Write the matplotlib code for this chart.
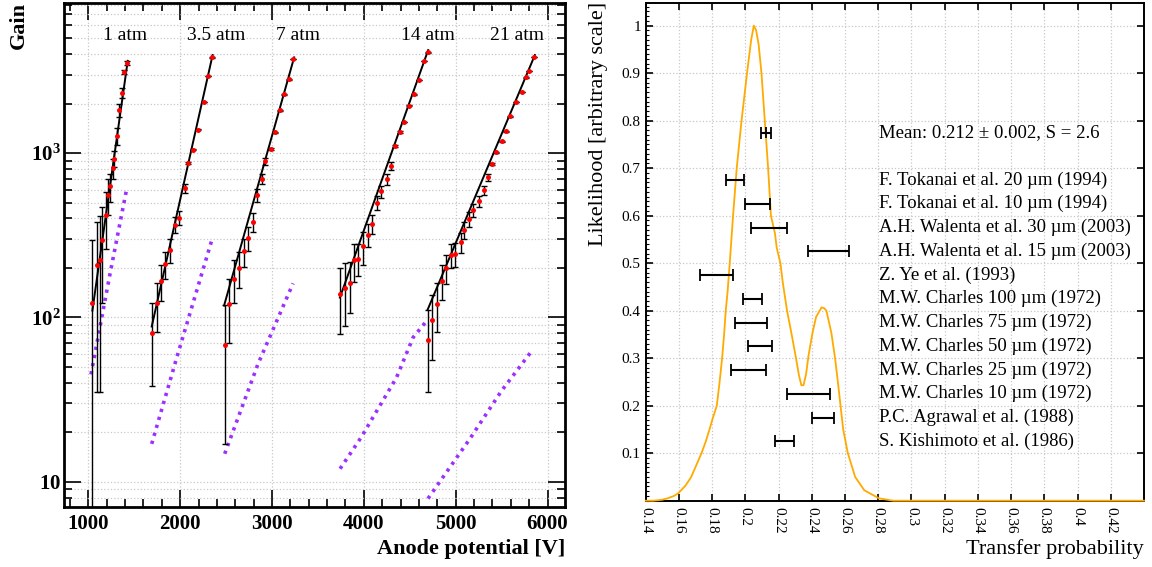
import matplotlib
matplotlib.use('Agg')
import matplotlib.pyplot as plt
from matplotlib.ticker import FixedLocator, FuncFormatter, LogLocator, NullFormatter, MultipleLocator

plt.rcParams['font.family'] = ['Liberation Serif', 'DejaVu Serif']
plt.rcParams['mathtext.fontset'] = 'custom'
plt.rcParams['mathtext.rm'] = 'Liberation Serif'
plt.rcParams['mathtext.bf'] = 'Liberation Serif:bold'

# ---- left panel: gain vs anode potential ----
pressures = ['1 atm', '3.5 atm', '7 atm', '14 atm', '21 atm']
label_v = [1395, 2388, 3281, 4698, 5668]
label_gain = 5200

v_1 = [1037, 1091, 1124, 1152, 1193, 1211, 1239, 1265, 1280, 1312, 1331, 1367, 1385, 1418]
g_1 = [123, 207, 225, 295, 419, 558, 626, 807, 925, 1277, 1821, 2311, 3118, 3540]
e_1 = [171, 172, 190, 173, 160, 140, 120, 110, 100, 150, 170, 160, 100, 100]

v_3p5 = [1690, 1744, 1788, 1838, 1889, 1940, 1990, 2052, 2088, 2142, 2194, 2256, 2302, 2343]
g_3p5 = [80, 122, 167, 211, 256, 367, 404, 612, 873, 1049, 1390, 2046, 2938, 3818]
e_3p5 = [42, 41, 42, 40, 42, 40, 40, 38, 15, 10, 10, 10, 10, 10]

v_7 = [2485, 2534, 2585, 2640, 2697, 2740, 2790, 2835, 2891, 2928, 2984, 3032, 3089, 3134, 3181, 3229]
g_7 = [68, 121, 172, 200, 252, 303, 382, 557, 698, 893, 1058, 1336, 1820, 2280, 2803, 3727]
e_7 = [51, 51, 50, 50, 50, 50, 50, 50, 50, 45, 15, 10, 10, 10, 10, 10]

v_14 = [3739, 3793, 3844, 3891, 3934, 3992, 4043, 4090, 4144, 4192, 4247, 4293, 4344, 4389,
        4441, 4494, 4550, 4598, 4659, 4698]
g_14 = [139, 151, 162, 222, 228, 271, 319, 371, 500, 584, 691, 834, 1104, 1343,
        1545, 1946, 2280, 2785, 3623, 4092]
e_14 = [60, 62, 55, 57, 50, 62, 52, 50, 50, 50, 50, 48, 12, 10, 10, 10, 10, 10, 10, 10]

v_21 = [4693, 4743, 4794, 4852, 4892, 4946, 4993, 5055, 5091, 5145, 5193, 5254, 5305, 5356,
        5392, 5443, 5501, 5548, 5596, 5656, 5717, 5764, 5797, 5849]
g_21 = [73, 96, 121, 167, 199, 241, 244, 288, 338, 396, 448, 510, 595, 714,
        858, 1010, 1178, 1361, 1674, 2046, 2355, 2884, 3149, 3847]
e_21 = [38, 41, 40, 40, 40, 40, 40, 40, 40, 40, 40, 40, 38, 35,
        12, 10, 10, 10, 10, 10, 10, 10, 10, 10]

# exponential fits (end points)
fit_v = [(1044, 1429), (1690, 2353), (2478, 3241), (3739, 4700), (4693, 5862)]
fit_g = [(110, 3640), (88, 3945), (118, 3820), (132, 4230), (111, 3945)]

# model curves (purple dotted)
th_v = [[1029, 1236, 1418],
        [1690, 1963, 2340],
        [2485, 2847, 3229],
        [3741, 3967, 4355, 4536, 4682],
        [4698, 5153, 5498, 5842]]
th_g = [[45, 184, 607],
        [17, 57, 290],
        [14.8, 52, 161],
        [12, 18.5, 43, 75.5, 95],
        [7.9, 18.2, 35.7, 64]]

series_v = [v_1, v_3p5, v_7, v_14, v_21]
series_g = [g_1, g_3p5, g_7, g_14, g_21]
series_e = [e_1, e_3p5, e_7, e_14, e_21]

# ---- right panel: transfer probability ----
curve_x = [0.140, 0.1444, 0.150, 0.1532, 0.157, 0.1597, 0.164, 0.1674, 0.1705, 0.1736, 0.1762,
           0.1784, 0.1805, 0.1828, 0.1845, 0.1860, 0.1872, 0.1882, 0.1893, 0.1906, 0.1926,
           0.1948, 0.1977, 0.2010, 0.2035, 0.2051, 0.2065, 0.2080, 0.2097, 0.2117, 0.2137,
           0.2154, 0.2178, 0.2189, 0.2211, 0.2225, 0.2251, 0.2277, 0.2305, 0.2322, 0.2337,
           0.2350, 0.2365, 0.2380, 0.2404, 0.2426, 0.2459, 0.2475, 0.2488, 0.2518, 0.2540,
           0.2557, 0.2573, 0.2589, 0.2617, 0.2661, 0.2716, 0.2804, 0.289, 0.44]
curve_y = [0.0, 0.0, 0.002, 0.005, 0.010, 0.016, 0.032, 0.05, 0.075, 0.10, 0.125,
           0.15, 0.175, 0.20, 0.25, 0.30, 0.35, 0.40, 0.44, 0.50, 0.60,
           0.70, 0.80, 0.90, 0.97, 1.0, 0.99, 0.96, 0.90, 0.80, 0.70,
           0.60, 0.563, 0.532, 0.50, 0.46, 0.40, 0.353, 0.30, 0.265, 0.243,
           0.243, 0.265, 0.305, 0.353, 0.387, 0.407, 0.405, 0.40, 0.353, 0.30,
           0.25, 0.20, 0.15, 0.10, 0.05, 0.022, 0.005, 0.0, 0.0]

ref_labels = ['F. Tokanai et al. 20 \u00b5m (1994)',
              'F. Tokanai et al. 10 \u00b5m (1994)',
              'A.H. Walenta et al. 30 \u00b5m (2003)',
              'A.H. Walenta et al. 15 \u00b5m (2003)',
              'Z. Ye et al. (1993)',
              'M.W. Charles 100 \u00b5m (1972)',
              'M.W. Charles 75 \u00b5m (1972)',
              'M.W. Charles 50 \u00b5m (1972)',
              'M.W. Charles 25 \u00b5m (1972)',
              'M.W. Charles 10 \u00b5m (1972)',
              'P.C. Agrawal et al. (1988)',
              'S. Kishimoto et al. (1986)']
ref_lo = [0.1882, 0.1997, 0.2036, 0.2378, 0.1725, 0.1988, 0.1937, 0.2016, 0.1913, 0.2251, 0.2402, 0.2176]
ref_hi = [0.1994, 0.2146, 0.2251, 0.2626, 0.1924, 0.2102, 0.2128, 0.2159, 0.2126, 0.2512, 0.2532, 0.2290]
ref_y = [0.675, 0.625, 0.575, 0.525, 0.475, 0.425, 0.375, 0.325, 0.275, 0.225, 0.175, 0.125]

mean_x = 0.2124
mean_err = 0.003
mean_y = 0.775
mean_text = 'Mean: 0.212 \u00b1 0.002, S = 2.6'

fig = plt.figure(figsize=(11.52, 5.67), dpi=100)

# ================= left =================
ax = fig.add_axes([64 / 1152, 60.3 / 567, 501 / 1152, 503.4 / 567])
ax.set_yscale('log')
ax.set_xlim(735, 6190)
ax.set_ylim(7.05, 8150)

for v, g in zip(fit_v, fit_g):
    ax.plot(v, g, color='black', lw=1.4, zorder=3)
for v, g in zip(th_v, th_g):
    ax.plot(v, g, color='#9b30ff', lw=2.6, ls=(0, (0.9, 1.4)), zorder=3)
for v, g, e in zip(series_v, series_g, series_e):
    ax.errorbar(v, g, yerr=e, fmt='none', ecolor='black', elinewidth=1.0,
                capsize=2.2, capthick=1.0, zorder=4)
    ax.plot(v, g, 'o', color='#ff0000', ms=3.6, mew=0, zorder=5)
for lab, lv in zip(pressures, label_v):
    ax.text(lv, label_gain, lab, ha='center', va='center', fontsize=14)

ax.xaxis.set_major_locator(MultipleLocator(1000))
ax.xaxis.set_minor_locator(MultipleLocator(200))
ax.yaxis.set_major_locator(FixedLocator([10, 100, 1000]))
ax.yaxis.set_minor_locator(LogLocator(base=10, subs=range(2, 10), numticks=20))
ax.yaxis.set_minor_formatter(NullFormatter())
ylab = {10: r'$\mathbf{10}$', 100: r'$\mathbf{10^{2}}$', 1000: r'$\mathbf{10^{3}}$'}
ax.yaxis.set_major_formatter(FuncFormatter(lambda y, p: ylab.get(int(round(y)), '')))
ax.tick_params(which='both', direction='in', top=True, right=True, width=1.2)
ax.tick_params(which='major', length=12.5)
ax.tick_params(which='minor', length=6)
ax.tick_params(axis='x', which='major', pad=5)
ax.tick_params(axis='y', which='major', pad=2)
for t in ax.get_xticklabels() + ax.get_yticklabels():
    t.set_fontweight('bold')
    t.set_fontsize(15)
ax.grid(True, which='major', axis='x', color='#c8c8c8', ls=':', lw=0.9)
ax.grid(True, which='both', axis='y', color='#c8c8c8', ls=':', lw=0.9)
for s in ax.spines.values():
    s.set_linewidth(2.0)

fig.text(565 / 1152, 1 - 549 / 567, 'Anode potential [V]', ha='right', va='center',
         fontsize=16, fontweight='bold')
fig.text(19 / 1152, 1 - 2 / 567, 'Gain', ha='center', va='top', rotation=90,
         fontsize=16, fontweight='bold')

# ================= right =================
ax2 = fig.add_axes([645.7 / 1152, 66.3 / 567, 498.3 / 1152, 497.4 / 567])
ax2.set_xlim(0.14, 0.44)
ax2.set_ylim(0, 1.047)

ax2.plot(curve_x, curve_y, color='#ffaa00', lw=1.3, zorder=2.6, clip_on=False)
ax2.errorbar([(lo + hi) / 2 for lo, hi in zip(ref_lo, ref_hi)], ref_y,
             xerr=[(hi - lo) / 2 for lo, hi in zip(ref_lo, ref_hi)], fmt='none',
             ecolor='black', elinewidth=1.5, capsize=4, capthick=1.3, zorder=3)
ax2.errorbar([mean_x], [mean_y], xerr=[mean_err], fmt='none',
             ecolor='black', elinewidth=1.5, capsize=4, capthick=1.3, zorder=3)
ax2.errorbar([mean_x], [mean_y], yerr=[0.011], fmt='none',
             ecolor='black', elinewidth=1.3, capsize=0, zorder=3)
for lab, y in zip(ref_labels, ref_y):
    ax2.text(0.2805, y, lab, ha='left', va='center', fontsize=13.5)
ax2.text(0.2805, mean_y, mean_text, ha='left', va='center', fontsize=13.5)

ax2.xaxis.set_major_locator(FixedLocator([0.14 + 0.02 * i for i in range(15)]))
ax2.yaxis.set_major_locator(FixedLocator([0.1 * i for i in range(1, 11)]))
ax2.yaxis.set_minor_locator(MultipleLocator(0.01))
ax2.xaxis.set_major_formatter(FuncFormatter(lambda x, p: '%g' % round(x, 2)))
ax2.yaxis.set_major_formatter(FuncFormatter(lambda y, p: '%g' % round(y, 1)))
ax2.tick_params(which='major', direction='in', top=True, right=True, length=5, width=1.2,
                labelsize=11)
ax2.tick_params(which='minor', direction='in', left=True, right=False, length=2.5, width=0.8)
ax2.tick_params(axis='x', pad=4.5, labelrotation=-90)
ax2.tick_params(axis='y', pad=3.5)
ax2.grid(True, which='major', color='#c8c8c8', ls=':', lw=0.9)
for s in ax2.spines.values():
    s.set_linewidth(1.4)

fig.text(1144 / 1152, 1 - 549 / 567, 'Transfer probability', ha='right', va='center',
         fontsize=16)
fig.text(598 / 1152, 1 - 2 / 567, 'Likelihood [arbitrary scale]', ha='center', va='top',
         rotation=90, fontsize=16)

fig.savefig('out.png', dpi=100)
